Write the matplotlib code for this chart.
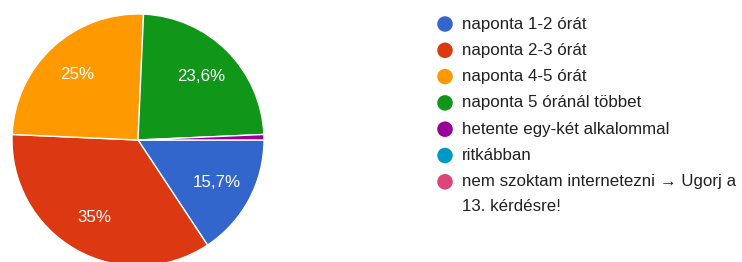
import matplotlib

matplotlib.use("Agg")
import matplotlib.pyplot as plt
import numpy as np

# answer categories and shares (%), in legend order
categories = ["naponta 1-2 órát", "naponta 2-3 órát", "naponta 4-5 órát",
              "naponta 5 óránál többet", "hetente egy-két alkalommal", "ritkábban",
              "nem szoktam internetezni → Ugorj a\n13. kérdésre!"]
shares = [15.7, 35.0, 25.0, 23.6, 0.7, 0.0, 0.0]
colors = ["#3366cc", "#dc3912", "#ff9900", "#109618", "#990099", "#0099c6", "#dd4477"]

W, H = 742, 262
FONT = ["Liberation Sans", "DejaVu Sans"]
TEXT = "#222222"
FS = 12.2


def pct_label(v):
    if v < 5:
        return ""
    s = f"{v:.1f}".rstrip("0").rstrip(".")
    return s.replace(".", ",") + "%"


fig = plt.figure(figsize=(W / 100, H / 100), dpi=100)
fig.patch.set_facecolor("white")

# pie axes, square in pixels, centred at (138, 140) from top-left
cx, cy, r = 138, 140, 126
ax = fig.add_axes([(cx - r) / W, (H - cy - r) / H, 2 * r / W, 2 * r / H])
vals = [v for v in shares if v > 0]
cols = [c for v, c in zip(shares, colors) if v > 0]
ax.pie(vals, colors=cols, startangle=0, counterclock=False, radius=1.0,
       wedgeprops=dict(edgecolor="white", linewidth=1.0))
cum = 0.0
tot = sum(vals)
for v in vals:
    mid = np.deg2rad(-(cum + v / 2) / tot * 360)
    cum += v
    lab = pct_label(v)
    if lab:
        d = 0.71
        ax.text(d * np.cos(mid), d * np.sin(mid), lab, ha="center", va="center",
                color="white", fontsize=FS, family=FONT)
ax.set_xlim(-1, 1)
ax.set_ylim(-1, 1)
ax.set_aspect("auto")
ax.axis("off")

# legend drawn in pixel coordinates
lg = fig.add_axes([0, 0, 1, 1])
lg.set_xlim(0, W)
lg.set_ylim(H, 0)
lg.axis("off")
y0, step = 24, 26.3
for i, (name, c) in enumerate(zip(categories, colors)):
    y = y0 + i * step
    lg.scatter([445], [y], s=125, color=c, edgecolors="none")
    for j, line in enumerate(name.split("\n")):
        lg.text(462, y + j * 25, line, ha="left", va="center", color=TEXT,
                fontsize=FS, family=FONT)

fig.savefig("out.png", dpi=100, facecolor="white")
